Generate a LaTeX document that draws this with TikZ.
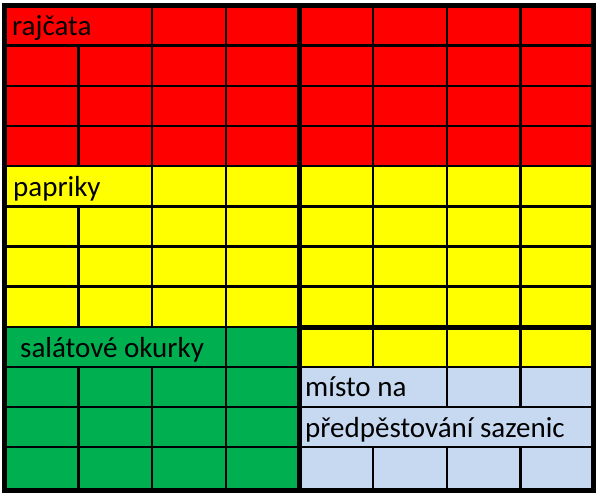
\documentclass[tikz,border=0pt]{standalone}
\usepackage{fontspec}
\setmainfont{Carlito}
\definecolor{cred}{HTML}{FF0000}
\definecolor{cyel}{HTML}{FFFF00}
\definecolor{cgrn}{HTML}{00B050}
\definecolor{cblu}{HTML}{C6D9F1}
\begin{document}
\begin{tikzpicture}[x=1pt,y=-1pt,
  thin grid/.style={line width=2.4pt, black},
  thick grid/.style={line width=5pt, black},
  lbl/.style={anchor=base west, inner sep=0pt, font=\fontsize{29}{30}\selectfont}]
\useasboundingbox (0,0) rectangle (600,499);
% fills
\fill[cred] (4.5,5.5) rectangle (593,166);
\fill[cyel] (4.5,166) rectangle (593,327);
\fill[cyel] (299.5,327) rectangle (593,367);
\fill[cgrn] (4.5,327) rectangle (299.5,490);
\fill[cblu] (299.5,367) rectangle (593,490);
% horizontal thin lines
\foreach \y in {45.5,86,126,166,206.5,246.5,286.5,327,367,407,447}
  \draw[thin grid] (4.5,\y) -- (593,\y);
% vertical thin lines: rows 2-4, 6-8 full
\foreach \x in {78.5,152,226,373,447,520.5} {
  \draw[thin grid] (\x,45.5) -- (\x,166);
  \draw[thin grid] (\x,206.5) -- (\x,327);
}
% row 1 and row 5
\foreach \x in {152,226,373,447,520.5} {
  \draw[thin grid] (\x,5.5) -- (\x,45.5);
  \draw[thin grid] (\x,166) -- (\x,206.5);
}
% row 9
\foreach \x in {226,373,447,520.5}
  \draw[thin grid] (\x,327) -- (\x,367);
% rows 10-12 left
\foreach \x in {78.5,152,226}
  \draw[thin grid] (\x,367) -- (\x,490);
% row 10 right
\foreach \x in {447,520.5}
  \draw[thin grid] (\x,367) -- (\x,407);
% row 12 right
\foreach \x in {373,447,520.5}
  \draw[thin grid] (\x,447) -- (\x,490);
% thick lines
\draw[thick grid] (299.5,5.5) -- (299.5,490);
\draw[thick grid] (299.5,327) -- (593,327);
\draw[thick grid] (4.5,5.5) rectangle (593,490);
% labels
\node[lbl] (rajcata) at (12,35) {rajčata};
\node[lbl] (papriky) at (13,196) {papriky};
\node[lbl] (okurky) at (20,357) {salátové okurky};
\node[lbl] (misto) at (305,396) {místo na};
\node[lbl] (sazenic) at (305,437) {předpěstování sazenic};
\end{tikzpicture}
\end{document}
